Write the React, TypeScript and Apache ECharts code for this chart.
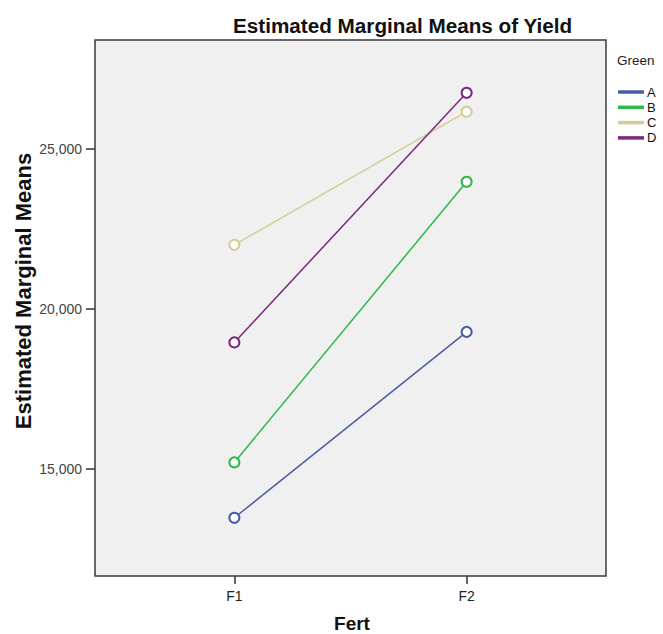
import React, { useEffect, useRef } from "react";
import * as echarts from "echarts";

const categories = ["F1", "F2"];
const groups = ["A", "B", "C", "D"];
const valuesA = [13470, 19280];
const valuesB = [15200, 23970];
const valuesC = [22000, 26160];
const valuesD = [18950, 26750];
const yTicks = [15000, 20000, 25000];
const colors = ["#4A5CA8", "#2EB848", "#D3CE97", "#7C287D"];

const FONT = "Arial, 'Liberation Sans', sans-serif";

export default function App() {
  const ref = useRef<HTMLDivElement>(null);
  useEffect(() => {
    if (!ref.current) return;
    const chart = echarts.init(ref.current, undefined, { renderer: "svg" });
    const all = [valuesA, valuesB, valuesC, valuesD];
    chart.setOption({
      animation: false,
      backgroundColor: "#ffffff",
      textStyle: { fontFamily: FONT },
      title: {
        text: "Estimated Marginal Means of Yield",
        left: 228,
        top: 10,
        textStyle: { fontSize: 20.7, fontWeight: "bold", color: "#111", fontFamily: FONT },
      },
      graphic: [
        {
          type: "text",
          x: 617,
          y: 53,
          style: { text: "Green", fontSize: 13.5, fill: "#222", fontFamily: FONT },
        },
        {
          type: "text",
          x: 23,
          y: 291,
          rotation: Math.PI / 2,
          style: {
            text: "Estimated Marginal Means",
            fontSize: 22,
            fontWeight: "bold",
            fill: "#111",
            fontFamily: FONT,
            textAlign: "center",
            textVerticalAlign: "middle",
          },
        },
        {
          type: "text",
          x: 352,
          y: 623,
          style: {
            text: "Fert",
            fontSize: 19,
            fontWeight: "bold",
            fill: "#111",
            fontFamily: FONT,
            textAlign: "center",
            textVerticalAlign: "middle",
          },
        },
      ],
      legend: {
        orient: "vertical",
        left: 618,
        top: 84.5,
        padding: 0,
        itemWidth: 24,
        itemHeight: 1.5,
        itemGap: 0.3,
        icon: "rect",
        data: groups,
        textStyle: { fontSize: 13, color: "#111", lineHeight: 15, padding: [0, 0, 0, -1], fontFamily: FONT },
      },
      grid: {
        left: 95,
        top: 40,
        width: 511,
        height: 536,
        show: true,
        containLabel: false,
        outerBoundsMode: "none",
        backgroundColor: "#f0f0f0",
        borderColor: "#3a3a3a",
        borderWidth: 1.5,
      },
      xAxis: {
        type: "value",
        min: -0.6,
        max: 1.6,
        axisLine: { show: false, onZero: false },
        splitLine: { show: false },
        axisTick: { show: true, length: 8, customValues: [0, 1], lineStyle: { color: "#333", width: 1.5 } },
        axisLabel: {
          customValues: [0, 1],
          formatter: (v: number) => categories[Math.round(v)] ?? "",
          fontSize: 14,
          color: "#222",
          margin: 13,
          fontFamily: FONT,
        },
      },
      yAxis: {
        type: "value",
        min: 11650,
        max: 28400,
        axisLine: { show: false, onZero: false },
        splitLine: { show: false },
        axisTick: { show: true, length: 9, customValues: yTicks, lineStyle: { color: "#333", width: 1.5 } },
        axisLabel: {
          customValues: yTicks,
          formatter: (v: number) => v.toLocaleString("en-US"),
          fontSize: 14,
          color: "#444",
          margin: 13,
          fontFamily: FONT,
        },
      },
      series: groups.map((g, i) => ({
        name: g,
        type: "line",
        data: all[i].map((v, j) => [j, v]),
        color: colors[i],
        lineStyle: { width: 1.5, color: colors[i] },
        symbol: "emptyCircle",
        symbolSize: 10,
        itemStyle: { color: colors[i], borderColor: colors[i], borderWidth: 1.5 },
      })),
    });
    return () => chart.dispose();
  }, []);
  return (
    <div
      ref={ref}
      style={{ position: "fixed", left: 0, top: 0, width: 663, height: 634 }}
    />
  );
}
